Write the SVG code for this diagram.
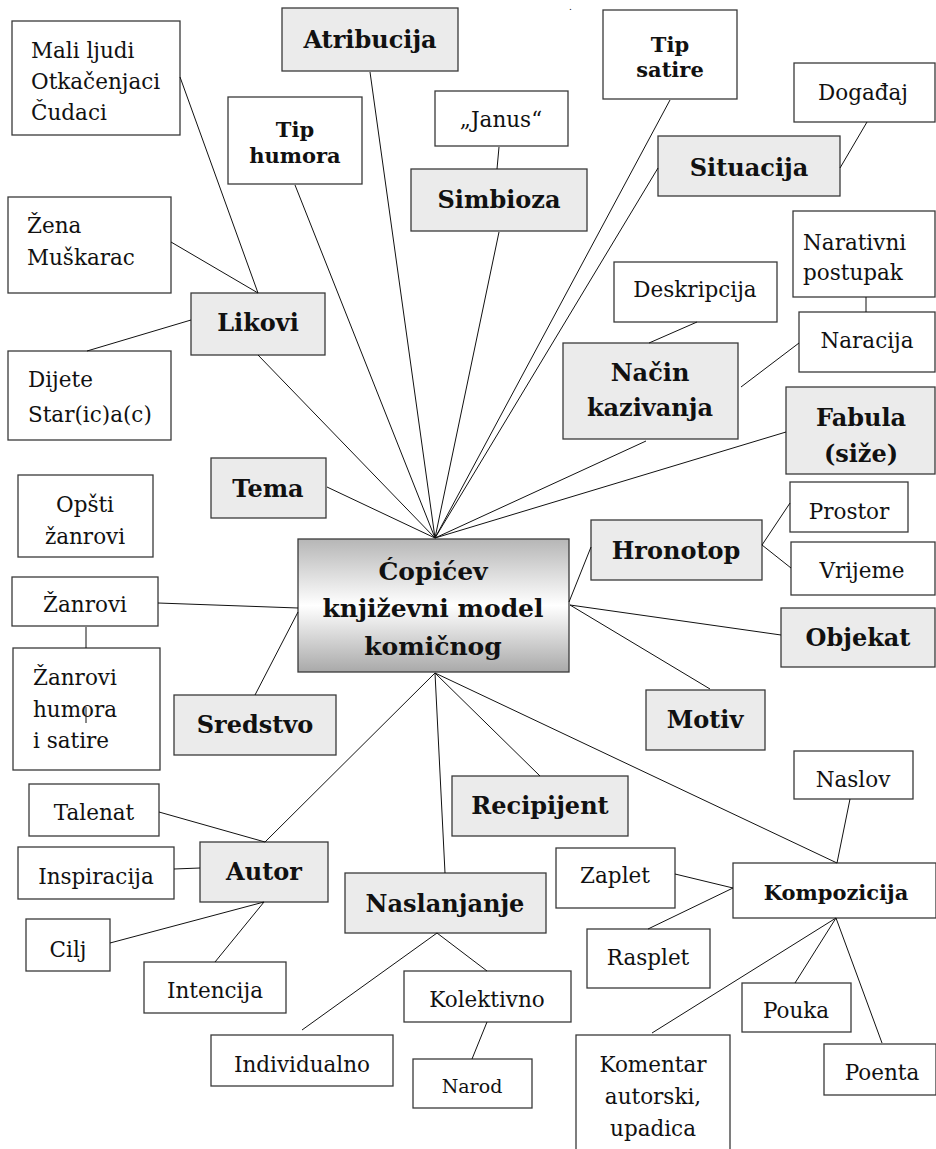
<svg xmlns="http://www.w3.org/2000/svg" width="936" height="1149" viewBox="0 0 936 1149">
  <style>
    .box { fill: #ffffff; stroke: #3a3a3a; stroke-width: 1.3; }
    .key { fill: #ebebeb; stroke: #3a3a3a; stroke-width: 1.3; }
    .t { font-family: "DejaVu Serif", "Liberation Serif", serif; font-size: 21.5px; fill: #111; }
    .c { text-anchor: middle; }
    .b { font-weight: bold; font-size: 24px; }
    .bs { font-weight: bold; font-size: 21px; }
    .hub { font-weight: bold; font-size: 25px; }
    #connectors line { stroke: #111; stroke-width: 1; }
  </style>
  <defs>
    <linearGradient id="hubFill" x1="0" y1="0" x2="0" y2="1">
      <stop offset="0" stop-color="#b6b6b6"/>
      <stop offset="0.5" stop-color="#ffffff"/>
      <stop offset="1" stop-color="#a9a9a9"/>
    </linearGradient>
  </defs>
  <rect width="936" height="1149" fill="#ffffff"/>

  <!-- central node -->
  <g id="hub">
    <rect x="298" y="539" width="271" height="133" fill="url(#hubFill)" stroke="#3a3a3a" stroke-width="1.3"/>
    <text class="t c hub" x="433" y="580">Ćopićev</text>
    <text class="t c hub" x="433" y="617">književni model</text>
    <text class="t c hub" x="433" y="655">komičnog</text>
  </g>

  <!-- upper nodes -->
  <g id="atribucija"><rect class="key" x="282" y="8" width="176" height="63"/><text class="t c b" x="370" y="48">Atribucija</text></g>
  <g id="tip-humora"><rect class="box" x="228" y="97" width="134" height="87"/><text class="t c bs" x="295" y="137">Tip</text><text class="t c bs" x="295" y="163">humora</text></g>
  <g id="janus"><rect class="box" x="435" y="91" width="133" height="55"/><text class="t c" x="501" y="127">„Janus“</text></g>
  <g id="simbioza"><rect class="key" x="411" y="169" width="176" height="62"/><text class="t c b" x="499" y="208">Simbioza</text></g>
  <g id="tip-satire"><rect class="box" x="603" y="10" width="134" height="89"/><text class="t c bs" x="670" y="52">Tip</text><text class="t c bs" x="670" y="77">satire</text></g>
  <g id="dogadjaj"><rect class="box" x="794" y="63" width="141" height="59"/><text class="t c" x="863" y="100">Događaj</text></g>
  <g id="situacija"><rect class="key" x="658" y="136" width="182" height="60"/><text class="t c b" x="749" y="176">Situacija</text></g>
  <g id="mali-ljudi"><rect class="box" x="12" y="21" width="168" height="114"/><text class="t" x="31" y="58">Mali ljudi</text><text class="t" x="31" y="89">Otkačenjaci</text><text class="t" x="31" y="120">Čudaci</text></g>
  <g id="zena"><rect class="box" x="8" y="197" width="163" height="96"/><text class="t" x="27" y="233">Žena</text><text class="t" x="27" y="265">Muškarac</text></g>
  <g id="likovi"><rect class="key" x="191" y="293" width="134" height="62"/><text class="t c b" x="258" y="331">Likovi</text></g>
  <g id="dijete"><rect class="box" x="8" y="351" width="163" height="89"/><text class="t" x="28" y="387">Dijete</text><text class="t" x="28" y="422">Star(ic)a(c)</text></g>

  <!-- right-hand nodes -->
  <g id="deskripcija"><rect class="box" x="614" y="262" width="163" height="60"/><text class="t c" x="695" y="297">Deskripcija</text></g>
  <g id="narativni"><rect class="box" x="793" y="211" width="142" height="86"/><text class="t" x="803" y="250">Narativni</text><text class="t" x="803" y="280">postupak</text></g>
  <g id="naracija"><rect class="box" x="799" y="312" width="136" height="60"/><text class="t c" x="867" y="348">Naracija</text></g>
  <g id="nacin"><rect class="key" x="563" y="343" width="175" height="96"/><text class="t c b" x="650" y="381">Način</text><text class="t c b" x="650" y="416">kazivanja</text></g>
  <g id="fabula"><rect class="key" x="786" y="387" width="149" height="87"/><text class="t c b" x="861" y="426">Fabula</text><text class="t c b" x="861" y="462">(siže)</text></g>
  <g id="hronotop"><rect class="key" x="591" y="520" width="171" height="60"/><text class="t c b" x="676" y="559">Hronotop</text></g>
  <g id="prostor"><rect class="box" x="790" y="482" width="118" height="50"/><text class="t c" x="849" y="519">Prostor</text></g>
  <g id="vrijeme"><rect class="box" x="791" y="542" width="144" height="53"/><text class="t c" x="862" y="578">Vrijeme</text></g>
  <g id="objekat"><rect class="key" x="781" y="608" width="154" height="59"/><text class="t c b" x="858" y="646">Objekat</text></g>
  <g id="motiv"><rect class="key" x="646" y="690" width="119" height="60"/><text class="t c b" x="705" y="728">Motiv</text></g>

  <!-- left-hand nodes -->
  <g id="tema"><rect class="key" x="211" y="458" width="115" height="60"/><text class="t c b" x="268" y="497">Tema</text></g>
  <g id="opsti"><rect class="box" x="18" y="475" width="135" height="82"/><text class="t c" x="85" y="512">Opšti</text><text class="t c" x="85" y="544">žanrovi</text></g>
  <g id="zanrovi"><rect class="box" x="12" y="577" width="146" height="49"/><text class="t c" x="85" y="612">Žanrovi</text></g>
  <g id="zanrovi-humora"><rect class="box" x="13" y="648" width="147" height="122"/><text class="t" x="33" y="685">Žanrovi</text><text class="t" x="33" y="717">humora</text><text class="t" x="33" y="748">i satire</text></g>
  <g id="sredstvo"><rect class="key" x="174" y="695" width="162" height="60"/><text class="t c b" x="255" y="733">Sredstvo</text></g>

  <!-- lower nodes -->
  <g id="recipijent"><rect class="key" x="452" y="776" width="176" height="60"/><text class="t c b" x="540" y="814">Recipijent</text></g>
  <g id="naslov"><rect class="box" x="794" y="751" width="119" height="48"/><text class="t c" x="853" y="787">Naslov</text></g>
  <g id="talenat"><rect class="box" x="29" y="784" width="130" height="52"/><text class="t c" x="94" y="820">Talenat</text></g>
  <g id="autor"><rect class="key" x="200" y="842" width="128" height="60"/><text class="t c b" x="264" y="880">Autor</text></g>
  <g id="inspiracija"><rect class="box" x="18" y="847" width="156" height="52"/><text class="t c" x="96" y="884">Inspiracija</text></g>
  <g id="cilj"><rect class="box" x="26" y="919" width="84" height="52"/><text class="t c" x="68" y="957">Cilj</text></g>
  <g id="intencija"><rect class="box" x="144" y="962" width="142" height="51"/><text class="t c" x="215" y="998">Intencija</text></g>
  <g id="naslanjanje"><rect class="key" x="345" y="873" width="201" height="60"/><text class="t c b" x="445" y="912">Naslanjanje</text></g>
  <g id="kolektivno"><rect class="box" x="404" y="971" width="167" height="51"/><text class="t c" x="487" y="1007">Kolektivno</text></g>
  <g id="individualno"><rect class="box" x="211" y="1035" width="182" height="51"/><text class="t c" x="302" y="1072">Individualno</text></g>
  <g id="narod"><rect class="box" x="413" y="1059" width="119" height="49"/><text class="t c" x="472" y="1093" style="font-size:19px">Narod</text></g>
  <g id="zaplet"><rect class="box" x="556" y="848" width="119" height="60"/><text class="t c" x="615" y="883">Zaplet</text></g>
  <g id="rasplet"><rect class="box" x="587" y="929" width="123" height="59"/><text class="t c" x="648" y="965">Rasplet</text></g>
  <g id="kompozicija"><rect class="box" x="733" y="863" width="203" height="55"/><text class="t c bs" x="836" y="900">Kompozicija</text></g>
  <g id="pouka"><rect class="box" x="742" y="983" width="109" height="49"/><text class="t c" x="796" y="1018">Pouka</text></g>
  <g id="poenta"><rect class="box" x="824" y="1044" width="112" height="51"/><text class="t c" x="882" y="1080">Poenta</text></g>
  <g id="komentar"><rect class="box" x="576" y="1035" width="154" height="130"/><text class="t c" x="653" y="1072">Komentar</text><text class="t c" x="653" y="1104">autorski,</text><text class="t c" x="653" y="1136">upadica</text></g>

  <!-- connectors, drawn last so every line stays visible -->
  <g id="connectors">
    <line x1="180" y1="77" x2="258" y2="293"/>
    <line x1="171" y1="242" x2="258" y2="293"/>
    <line x1="191" y1="320" x2="87" y2="351"/>
    <line x1="258" y1="355" x2="435" y2="538"/>
    <line x1="295" y1="185" x2="435" y2="538"/>
    <line x1="370" y1="72" x2="435" y2="538"/>
    <line x1="499" y1="232" x2="435" y2="538"/>
    <line x1="499" y1="147" x2="497" y2="169"/>
    <line x1="670" y1="100" x2="435" y2="538"/>
    <line x1="658" y1="168" x2="435" y2="538"/>
    <line x1="867" y1="122" x2="840" y2="168"/>
    <line x1="697" y1="322" x2="649" y2="343"/>
    <line x1="866" y1="297" x2="866" y2="312"/>
    <line x1="799" y1="343" x2="741" y2="387"/>
    <line x1="646" y1="441" x2="435" y2="538"/>
    <line x1="786" y1="432" x2="435" y2="538"/>
    <line x1="327" y1="487" x2="435" y2="538"/>
    <line x1="569" y1="602" x2="591" y2="547"/>
    <line x1="762" y1="545" x2="790" y2="503"/>
    <line x1="762" y1="545" x2="791" y2="568"/>
    <line x1="570" y1="605" x2="781" y2="635"/>
    <line x1="570" y1="605" x2="710" y2="689"/>
    <line x1="158" y1="603" x2="298" y2="608"/>
    <line x1="86" y1="627" x2="86" y2="648"/>
    <line x1="86" y1="707" x2="86" y2="723"/>
    <line x1="298" y1="612" x2="255" y2="695"/>
    <line x1="435" y1="673" x2="265" y2="842"/>
    <line x1="435" y1="673" x2="445" y2="873"/>
    <line x1="435" y1="673" x2="540" y2="776"/>
    <line x1="435" y1="673" x2="837" y2="863"/>
    <line x1="850" y1="799" x2="837" y2="863"/>
    <line x1="159" y1="812" x2="265" y2="842"/>
    <line x1="174" y1="869" x2="200" y2="868"/>
    <line x1="110" y1="943" x2="264" y2="902"/>
    <line x1="215" y1="962" x2="264" y2="902"/>
    <line x1="437" y1="933" x2="302" y2="1030"/>
    <line x1="437" y1="933" x2="487" y2="971"/>
    <line x1="487" y1="1022" x2="472" y2="1059"/>
    <line x1="675" y1="874" x2="733" y2="888"/>
    <line x1="648" y1="929" x2="733" y2="888"/>
    <line x1="836" y1="918" x2="652" y2="1033"/>
    <line x1="836" y1="918" x2="795" y2="983"/>
    <line x1="836" y1="918" x2="882" y2="1043"/>
  </g>

  <text class="t" x="569" y="10" style="font-size:9px">.</text>
</svg>
